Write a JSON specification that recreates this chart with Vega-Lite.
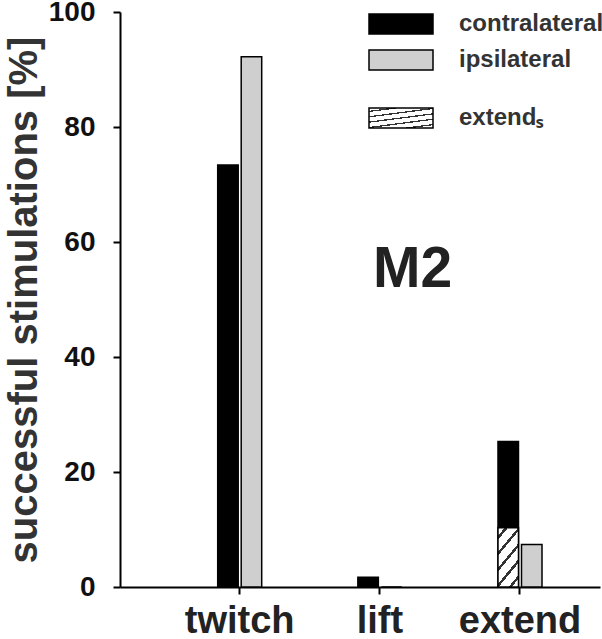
{
  "$schema": "https://vega.github.io/schema/vega-lite/v6.json",
  "width": 480,
  "height": 575,
  "autosize": "none",
  "padding": {"left": 120, "top": 12, "right": 2, "bottom": 52},
  "config": {"view": {"stroke": null}, "font": "Liberation Sans"},
  "layer": [
    {
      "data": {"values": [
        {"movement": "twitch", "side": "contralateral", "value": 73.4},
        {"movement": "twitch", "side": "ipsilateral", "value": 92.2},
        {"movement": "lift", "side": "contralateral", "value": 1.7},
        {"movement": "lift", "side": "ipsilateral", "value": 0},
        {"movement": "extend", "side": "contralateral", "value": 25.3},
        {"movement": "extend", "side": "ipsilateral", "value": 7.4}
      ]},
      "mark": {"type": "bar", "stroke": "black", "strokeWidth": 1.5},
      "encoding": {
        "x": {
          "field": "movement", "type": "nominal", "sort": ["twitch", "lift", "extend"],
          "scale": {"paddingInner": 0.686, "paddingOuter": 0.5555, "align": 0.6275},
          "axis": {
            "title": null, "labelAngle": 0, "domainColor": "black", "domainWidth": 2,
            "tickColor": "black", "tickWidth": 2, "tickSize": 7,
            "labelFont": "Liberation Sans", "labelFontWeight": "bold", "labelFontSize": 38,
            "labelColor": "#222", "labelPadding": 8
          }
        },
        "xOffset": {
          "field": "side", "type": "nominal", "sort": ["contralateral", "ipsilateral"],
          "scale": {"paddingInner": 0.128, "paddingOuter": 0}
        },
        "y": {
          "field": "value", "type": "quantitative",
          "scale": {"domain": [0, 100]},
          "axis": {
            "title": "successful stimulations [%]", "values": [0, 20, 40, 60, 80, 100], "grid": false,
            "domainColor": "black", "domainWidth": 2, "tickColor": "black", "tickWidth": 2, "tickSize": 7,
            "labelFont": "Liberation Sans", "labelFontWeight": "bold", "labelFontSize": 28,
            "labelColor": "#111", "labelPadding": 18,
            "titleFont": "Liberation Sans", "titleFontWeight": "bold", "titleFontSize": 40,
            "titleColor": "#333", "titlePadding": 4
          }
        },
        "fill": {
          "field": "side", "type": "nominal",
          "scale": {"domain": ["contralateral", "ipsilateral"], "range": ["black", "#cfcfcf"]},
          "legend": {
            "title": null, "orient": "none", "legendX": 269, "legendY": 0, "padding": 0,
            "symbolType": "M-3.2,-1H3.2V1H-3.2Z", "symbolSize": 400, "labelOffset": 46,
            "labelFont": "Liberation Sans", "labelFontWeight": "bold", "labelFontSize": 24,
            "labelColor": "#333", "rowPadding": 10,
            "encode": {"symbols": {"update": {"stroke": {"value": "black"}, "strokeWidth": {"value": 1.5}}}}
          }
        }
      }
    },
    {
      "data": {"values": [
        {"movement": "extend", "side": "contralateral", "subset": "extendₛ", "value": 10.3}
      ]},
      "mark": {
        "type": "bar", "stroke": "black", "strokeWidth": 1.5,
        "fill": {"gradient": "linear", "x1": 0, "y1": 0, "x2": 0.503, "y2": 1.207, "stops": [
          {"offset": 0, "color": "white"},
          {"offset": 0.097, "color": "white"}, {"offset": 0.097, "color": "#333"},
          {"offset": 0.143, "color": "#333"}, {"offset": 0.143, "color": "white"},
          {"offset": 0.287, "color": "white"}, {"offset": 0.287, "color": "#333"},
          {"offset": 0.333, "color": "#333"}, {"offset": 0.333, "color": "white"},
          {"offset": 0.477, "color": "white"}, {"offset": 0.477, "color": "#333"},
          {"offset": 0.523, "color": "#333"}, {"offset": 0.523, "color": "white"},
          {"offset": 0.667, "color": "white"}, {"offset": 0.667, "color": "#333"},
          {"offset": 0.713, "color": "#333"}, {"offset": 0.713, "color": "white"},
          {"offset": 0.857, "color": "white"}, {"offset": 0.857, "color": "#333"},
          {"offset": 0.903, "color": "#333"}, {"offset": 0.903, "color": "white"},
          {"offset": 1, "color": "white"}
        ]}
      },
      "encoding": {
        "x": {"field": "movement", "type": "nominal", "sort": ["twitch", "lift", "extend"]},
        "xOffset": {"field": "side", "type": "nominal", "sort": ["contralateral", "ipsilateral"]},
        "y": {"field": "value", "type": "quantitative"},
        "opacity": {
          "field": "subset", "type": "nominal",
          "scale": {"range": [1]},
          "legend": {
            "title": null, "orient": "none", "legendX": 269, "legendY": 94, "padding": 0,
            "symbolType": "M-3.2,-1H3.2V1H-3.2Z", "symbolSize": 400, "labelOffset": 46,
            "labelFont": "Liberation Sans", "labelFontWeight": "bold", "labelFontSize": 24,
            "labelColor": "#333",
            "encode": {"symbols": {"update": {
              "stroke": {"value": "black"}, "strokeWidth": {"value": 1.5}, "opacity": {"value": 1},
              "fill": {"value": {"gradient": "linear", "x1": 0, "y1": 0, "x2": 1.1804, "y2": 0.3074, "stops": [
                {"offset": 0, "color": "white"},
                {"offset": 0.1, "color": "white"}, {"offset": 0.1, "color": "#333"},
                {"offset": 0.14, "color": "#333"}, {"offset": 0.14, "color": "white"},
                {"offset": 0.29, "color": "white"}, {"offset": 0.29, "color": "#333"},
                {"offset": 0.33, "color": "#333"}, {"offset": 0.33, "color": "white"},
                {"offset": 0.48, "color": "white"}, {"offset": 0.48, "color": "#333"},
                {"offset": 0.52, "color": "#333"}, {"offset": 0.52, "color": "white"},
                {"offset": 0.67, "color": "white"}, {"offset": 0.67, "color": "#333"},
                {"offset": 0.71, "color": "#333"}, {"offset": 0.71, "color": "white"},
                {"offset": 0.86, "color": "white"}, {"offset": 0.86, "color": "#333"},
                {"offset": 0.9, "color": "#333"}, {"offset": 0.9, "color": "white"},
                {"offset": 1, "color": "white"}
              ]}}
            }}}
          }
        }
      }
    },
    {
      "data": {"values": [{"label": "M2"}]},
      "mark": {"type": "text", "font": "Liberation Sans", "fontWeight": "bold", "fontSize": 57, "color": "#222", "align": "center", "baseline": "alphabetic"},
      "encoding": {
        "text": {"field": "label"},
        "x": {"datum": "lift", "type": "nominal", "bandPosition": 1.242},
        "y": {"datum": 52.2, "type": "quantitative"}
      }
    }
  ],
  "resolve": {"scale": {"fill": "independent", "opacity": "independent"}}
}
